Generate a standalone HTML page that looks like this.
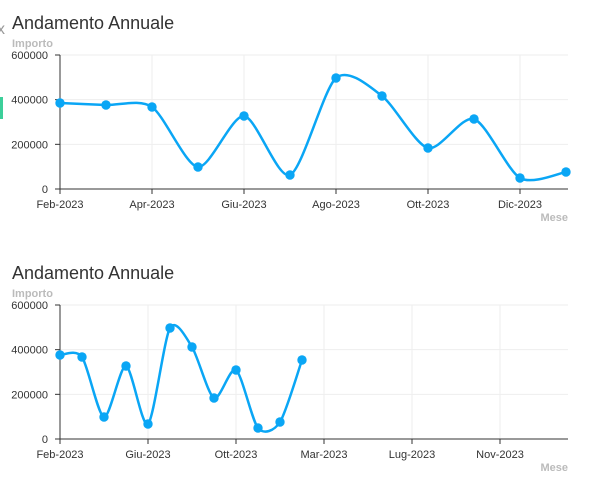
<!DOCTYPE html>
<html><head><meta charset="utf-8"><style>
body{margin:0;background:#fff;width:613px;height:494px;overflow:hidden;font-family:"Liberation Sans",sans-serif}
svg{position:absolute;left:0;top:0}
</style></head><body>
<svg id="s" width="613" height="494" xmlns="http://www.w3.org/2000/svg" font-family="Liberation Sans, sans-serif">
<rect x="0" y="97" width="3" height="22" fill="#3ccf9a"/>
<text x="-3" y="34" font-size="16" fill="#999">x</text>
</svg>
<script>
var s=document.getElementById('s'),NS='http://www.w3.org/2000/svg';
function el(t,a,txt){var e=document.createElementNS(NS,t);for(var k in a)e.setAttribute(k,a[k]);if(txt)e.textContent=txt;s.appendChild(e);return e;}
function chart(oy,ticks,xs,ys){
 var top=oy+55,bot=oy+189;
 el('text',{x:12,y:oy+29,'font-size':18,fill:'#333'},'Andamento Annuale');
 el('text',{x:12,y:oy+47,'font-size':11,'font-weight':'bold',fill:'#bbb'},'Importo');
 el('text',{x:568,y:oy+221,'font-size':11,'font-weight':'bold',fill:'#bbb','text-anchor':'end'},'Mese');
 [0,200000,400000,600000].forEach(function(v){var y=bot-v/600000*134;
  if(v>0)el('line',{x1:60,x2:568,y1:y,y2:y,stroke:'#eee'});
  el('line',{x1:55,x2:60,y1:y,y2:y,stroke:'#333'});
  el('text',{x:48,y:y+4,'font-size':11,fill:'#333','text-anchor':'end'},String(v));});
 ticks.forEach(function(t){ if(t[0]>60)el('line',{x1:t[0],x2:t[0],y1:top,y2:bot,stroke:'#eee'});
  el('line',{x1:t[0],x2:t[0],y1:bot,y2:bot+5,stroke:'#333'});
  el('text',{x:t[0],y:bot+19,'font-size':11,fill:'#333','text-anchor':'middle'},t[1]);});
 el('line',{x1:60,x2:60,y1:top,y2:bot,stroke:'#333'});
 el('line',{x1:55,x2:568,y1:bot,y2:bot,stroke:'#333'});
 var p=xs.map(function(x,i){return [x,oy+ys[i]];});
 var d='M'+p[0][0]+','+p[0][1],k=7.5;
 for(var i=0;i<p.length-1;i++){var p0=p[i-1]||p[i],p1=p[i],p2=p[i+1],p3=p[i+2]||p2;
  d+=' C'+(p1[0]+(p2[0]-p0[0])/k)+','+(p1[1]+(p2[1]-p0[1])/k)+' '+(p2[0]-(p3[0]-p1[0])/k)+','+(p2[1]-(p3[1]-p1[1])/k)+' '+p2[0]+','+p2[1];}
 el('path',{d:d,fill:'none',stroke:'#0aa6f5','stroke-width':2.5});
 p.forEach(function(q){el('circle',{cx:q[0],cy:q[1],r:4.7,fill:'#0aa6f5'});});
}
var x1=[],x2=[];for(var i=0;i<12;i++){x1.push(60+i*46);x2.push(60+i*22);}
chart(0,[[60,'Feb-2023'],[152,'Apr-2023'],[244,'Giu-2023'],[336,'Ago-2023'],[428,'Ott-2023'],[520,'Dic-2023']],x1,[103,105,107,167,116,175,78,96,148,119,178,172]);
chart(250,[[60,'Feb-2023'],[148,'Giu-2023'],[236,'Ott-2023'],[324,'Mar-2023'],[412,'Lug-2023'],[500,'Nov-2023']],x2,[105,107,167,116,174,78,97,148,120,178,172,110]);
</script>
</body></html>
